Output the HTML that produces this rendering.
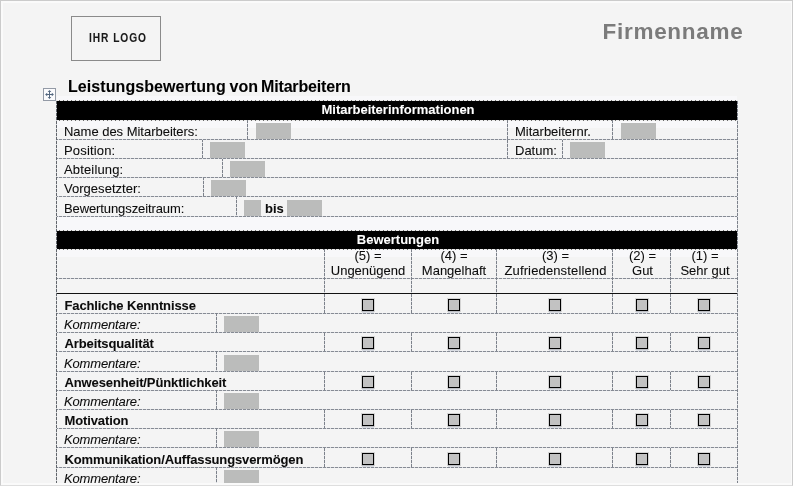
<!DOCTYPE html>
<html lang="de"><head><meta charset="utf-8"><title>Leistungsbewertung von Mitarbeitern</title>
<style>
*{margin:0;padding:0;box-sizing:border-box}
html,body{width:793px;height:486px;overflow:hidden;background:#f4f4f4}
body{position:relative;font-family:"Liberation Sans",sans-serif;font-size:13px;line-height:15px;color:#0c0c0c;-webkit-text-stroke:0.07px #0c0c0c}
#firm{-webkit-text-stroke:0}
.bar{-webkit-text-stroke:0.07px #fff}
.a{position:absolute}
.t{position:absolute;white-space:nowrap;height:15px}
.b{font-weight:bold}
.i{font-style:italic}
.c{text-align:center}
.hd{position:absolute;height:1px;background:repeating-linear-gradient(90deg,#868b94 0 2px,#d9dbe0 2px 3px,#868b94 3px 4px)}
.vd{position:absolute;width:1px;background:repeating-linear-gradient(180deg,#7c818a 0 3px,#d9dbe0 3px 4px)}
.hk{position:absolute;height:1px;background:repeating-linear-gradient(90deg,#ededed 0 3px,#6a6a6a 3px 4px)}
.f{position:absolute;background:#bbbcbb;height:15px}
.bar{position:absolute;left:57px;width:680px;background:#000;color:#fff;font-weight:bold;text-align:center}
.cb{position:absolute;width:12px;height:12px;border:1px solid #000;background:#c2c2c2;box-shadow:0 0 0 1px rgba(0,0,0,.13),0 2px 0 0 #d9dce2}
</style></head>
<body>
<div class="a" style="left:0;top:0;width:793px;height:486px;border:1px solid #cbcbcb;border-bottom-color:#dedede;z-index:5"></div>
<div class="a" style="left:1px;top:1px;width:791px;height:484px;border:2px solid #fafafa;border-right-width:1px;z-index:5"></div>
<div class="a" style="left:57px;top:96px;width:680px;height:5px;background:#f8f8fa"></div>
<div class="a" style="left:57px;top:121px;width:680px;height:7px;background:#f8f8fa"></div>
<div class="a" style="left:57px;top:217px;width:680px;height:14px;background:#f8f8fa"></div>
<div class="a" style="left:57px;top:250px;width:680px;height:7px;background:#f8f8fa"></div>
<div class="a" style="left:71px;top:16px;width:90px;height:45px;border:1px solid #8a8a8a"></div>
<div class="t b" id="logo" style="left:88.9px;top:30px;height:15px;line-height:15px;font-size:13px;letter-spacing:1.2px;color:#1a1a1a;transform-origin:0 0;transform:scaleX(0.785)">IHR LOGO</div>
<div class="t b" id="firm" style="left:602.5px;top:19.4px;height:26px;line-height:26px;font-size:22.5px;letter-spacing:0.72px;color:#7b7b7b">Firmenname</div>
<div class="t b" id="title" style="left:68px;top:77px;height:19px;line-height:19px;font-size:16px;color:#000"><span style="letter-spacing:0.075px">Leistungsbewertung</span><span style="margin-left:-0.7px"> von</span><span style="letter-spacing:-0.16px;margin-left:-1.3px"> Mitarbeitern</span></div>
<svg class="a" style="left:43px;top:88px" width="13" height="13" viewBox="0 0 13 13"><rect x="0.5" y="0.5" width="12" height="12" fill="#fbfbfd" stroke="#939aa6"/><path d="M6.5 3V10M3 6.5H10" stroke="#52667e" stroke-width="1" fill="none"/><path d="M6.5 1.9L8.3 4H4.7ZM6.5 11.1L8.3 9H4.7ZM2.1 6.5L4.2 4.7V8.3ZM10.9 6.5L8.8 4.7V8.3Z" fill="#52667e"/></svg>
<div class="bar" style="top:101px;height:19px;line-height:17px"><span id="h1" style="position:relative;left:1px">Mitarbeiterinformationen</span></div>
<div class="hk" style="left:56px;top:100px;width:682px"></div>
<div class="hk" style="left:56px;top:120px;width:682px"></div>
<div class="t" style="left:64px;top:124px;letter-spacing:-0.02px">Name des Mitarbeiters:</div>
<div class="vd" style="left:247px;top:120px;height:19px"></div>
<div class="f" style="left:256px;top:123px;width:35px;height:16px"></div>
<div class="t" style="left:64px;top:143px;letter-spacing:0.16px">Position:</div>
<div class="vd" style="left:202px;top:139px;height:19px"></div>
<div class="f" style="left:210px;top:142px;width:35px;height:16px"></div>
<div class="t" style="left:64px;top:162px;letter-spacing:0.15px">Abteilung:</div>
<div class="vd" style="left:222px;top:158px;height:19px"></div>
<div class="f" style="left:230px;top:161px;width:35px;height:16px"></div>
<div class="t" style="left:64px;top:181px;letter-spacing:0.03px">Vorgesetzter:</div>
<div class="vd" style="left:203px;top:177px;height:19px"></div>
<div class="f" style="left:211px;top:180px;width:35px;height:16px"></div>
<div class="t" style="left:64px;top:201px;letter-spacing:-0.1px">Bewertungszeitraum:</div>
<div class="vd" style="left:236px;top:196px;height:20px"></div>
<div class="f" style="left:244px;top:200px;width:17px;height:16px"></div>
<div class="f" style="left:287px;top:200px;width:35px;height:16px"></div>
<div class="t b" style="left:265px;top:201px">bis</div>
<div class="vd" style="left:507px;top:120px;height:38px"></div>
<div class="t" style="left:515px;top:124px">Mitarbeiternr.</div>
<div class="vd" style="left:612px;top:120px;height:19px"></div>
<div class="f" style="left:621px;top:123px;width:35px;height:16px"></div>
<div class="t" style="left:515px;top:143px">Datum:</div>
<div class="vd" style="left:562px;top:139px;height:19px"></div>
<div class="f" style="left:570px;top:142px;width:35px;height:16px"></div>
<div class="hd" style="left:56px;top:139px;width:682px"></div>
<div class="hd" style="left:56px;top:158px;width:682px"></div>
<div class="hd" style="left:56px;top:177px;width:682px"></div>
<div class="hd" style="left:56px;top:196px;width:682px"></div>
<div class="hd" style="left:56px;top:216px;width:682px"></div>
<div class="bar" style="top:231px;height:18px;line-height:17px"><span id="h2" style="position:relative;left:1px">Bewertungen</span></div>
<div class="hk" style="left:56px;top:230px;width:682px"></div>
<div class="hk" style="left:56px;top:249px;width:682px"></div>
<div class="t c" style="left:325px;top:248px;width:86px">(5) =</div>
<div class="t c" style="left:325px;top:263px;width:86px">Ungenügend</div>
<div class="t c" style="left:412px;top:248px;width:84px">(4) =</div>
<div class="t c" style="left:412px;top:263px;width:84px">Mangelhaft</div>
<div class="t c" style="left:498px;top:248px;width:115px">(3) =</div>
<div class="t c" style="left:498px;top:263px;width:115px"><span style="letter-spacing:0.14px">Zufriedenstellend</span></div>
<div class="t c" style="left:614px;top:248px;width:57px">(2) =</div>
<div class="t c" style="left:614px;top:263px;width:57px">Gut</div>
<div class="t c" style="left:672px;top:248px;width:66px">(1) =</div>
<div class="t c" style="left:672px;top:263px;width:66px">Sehr gut</div>
<div class="hd" style="left:56px;top:278px;width:682px"></div>
<div class="a" style="left:56px;top:293px;width:682px;height:1px;background:#111"></div>
<div class="t b" style="left:64.5px;top:298px;letter-spacing:-0.12px">Fachliche Kenntnisse</div>
<div class="cb" style="left:362px;top:299px"></div>
<div class="cb" style="left:448px;top:299px"></div>
<div class="cb" style="left:549px;top:299px"></div>
<div class="cb" style="left:636px;top:299px"></div>
<div class="cb" style="left:698px;top:299px"></div>
<div class="vd" style="left:324px;top:294px;height:19px"></div>
<div class="vd" style="left:411px;top:294px;height:19px"></div>
<div class="vd" style="left:496px;top:294px;height:19px"></div>
<div class="vd" style="left:612px;top:294px;height:19px"></div>
<div class="vd" style="left:670px;top:294px;height:19px"></div>
<div class="hd" style="left:56px;top:313px;width:682px"></div>
<div class="t i" style="left:64px;top:317px;letter-spacing:-0.15px">Kommentare:</div>
<div class="vd" style="left:216px;top:313px;height:19px"></div>
<div class="f" style="left:224px;top:316px;width:35px;height:16px"></div>
<div class="hd" style="left:56px;top:332px;width:682px"></div>
<div class="t b" style="left:64.5px;top:336px;letter-spacing:-0.12px">Arbeitsqualität</div>
<div class="cb" style="left:362px;top:337px"></div>
<div class="cb" style="left:448px;top:337px"></div>
<div class="cb" style="left:549px;top:337px"></div>
<div class="cb" style="left:636px;top:337px"></div>
<div class="cb" style="left:698px;top:337px"></div>
<div class="vd" style="left:324px;top:333px;height:18px"></div>
<div class="vd" style="left:411px;top:333px;height:18px"></div>
<div class="vd" style="left:496px;top:333px;height:18px"></div>
<div class="vd" style="left:612px;top:333px;height:18px"></div>
<div class="vd" style="left:670px;top:333px;height:18px"></div>
<div class="hd" style="left:56px;top:351px;width:682px"></div>
<div class="t i" style="left:64px;top:356px;letter-spacing:-0.15px">Kommentare:</div>
<div class="vd" style="left:216px;top:351px;height:20px"></div>
<div class="f" style="left:224px;top:355px;width:35px;height:16px"></div>
<div class="hd" style="left:56px;top:371px;width:682px"></div>
<div class="t b" style="left:64.5px;top:375px;letter-spacing:-0.12px">Anwesenheit/Pünktlichkeit</div>
<div class="cb" style="left:362px;top:376px"></div>
<div class="cb" style="left:448px;top:376px"></div>
<div class="cb" style="left:549px;top:376px"></div>
<div class="cb" style="left:636px;top:376px"></div>
<div class="cb" style="left:698px;top:376px"></div>
<div class="vd" style="left:324px;top:372px;height:18px"></div>
<div class="vd" style="left:411px;top:372px;height:18px"></div>
<div class="vd" style="left:496px;top:372px;height:18px"></div>
<div class="vd" style="left:612px;top:372px;height:18px"></div>
<div class="vd" style="left:670px;top:372px;height:18px"></div>
<div class="hd" style="left:56px;top:390px;width:682px"></div>
<div class="t i" style="left:64px;top:394px;letter-spacing:-0.15px">Kommentare:</div>
<div class="vd" style="left:216px;top:390px;height:19px"></div>
<div class="f" style="left:224px;top:393px;width:35px;height:16px"></div>
<div class="hd" style="left:56px;top:409px;width:682px"></div>
<div class="t b" style="left:64.5px;top:413px;letter-spacing:-0.12px">Motivation</div>
<div class="cb" style="left:362px;top:414px"></div>
<div class="cb" style="left:448px;top:414px"></div>
<div class="cb" style="left:549px;top:414px"></div>
<div class="cb" style="left:636px;top:414px"></div>
<div class="cb" style="left:698px;top:414px"></div>
<div class="vd" style="left:324px;top:410px;height:18px"></div>
<div class="vd" style="left:411px;top:410px;height:18px"></div>
<div class="vd" style="left:496px;top:410px;height:18px"></div>
<div class="vd" style="left:612px;top:410px;height:18px"></div>
<div class="vd" style="left:670px;top:410px;height:18px"></div>
<div class="hd" style="left:56px;top:428px;width:682px"></div>
<div class="t i" style="left:64px;top:432px;letter-spacing:-0.15px">Kommentare:</div>
<div class="vd" style="left:216px;top:428px;height:19px"></div>
<div class="f" style="left:224px;top:431px;width:35px;height:16px"></div>
<div class="hd" style="left:56px;top:447px;width:682px"></div>
<div class="t b" style="left:64.5px;top:452px;letter-spacing:-0.12px">Kommunikation/Auffassungsvermögen</div>
<div class="cb" style="left:362px;top:453px"></div>
<div class="cb" style="left:448px;top:453px"></div>
<div class="cb" style="left:549px;top:453px"></div>
<div class="cb" style="left:636px;top:453px"></div>
<div class="cb" style="left:698px;top:453px"></div>
<div class="vd" style="left:324px;top:448px;height:19px"></div>
<div class="vd" style="left:411px;top:448px;height:19px"></div>
<div class="vd" style="left:496px;top:448px;height:19px"></div>
<div class="vd" style="left:612px;top:448px;height:19px"></div>
<div class="vd" style="left:670px;top:448px;height:19px"></div>
<div class="hd" style="left:56px;top:467px;width:682px"></div>
<div class="t i" style="left:64px;top:471px;letter-spacing:-0.15px">Kommentare:</div>
<div class="vd" style="left:216px;top:467px;height:19px"></div>
<div class="f" style="left:224px;top:470px;width:35px;height:16px"></div>
<div class="vd" style="left:324px;top:249px;height:44px"></div>
<div class="vd" style="left:411px;top:249px;height:44px"></div>
<div class="vd" style="left:496px;top:249px;height:44px"></div>
<div class="vd" style="left:612px;top:249px;height:44px"></div>
<div class="vd" style="left:670px;top:249px;height:44px"></div>
<div class="vd" style="left:56px;top:101px;height:385px;background:repeating-linear-gradient(180deg,#62666c 0 3px,#d4d6da 3px 4px)"></div>
<div class="vd" style="left:737px;top:101px;height:385px"></div>
</body></html>
